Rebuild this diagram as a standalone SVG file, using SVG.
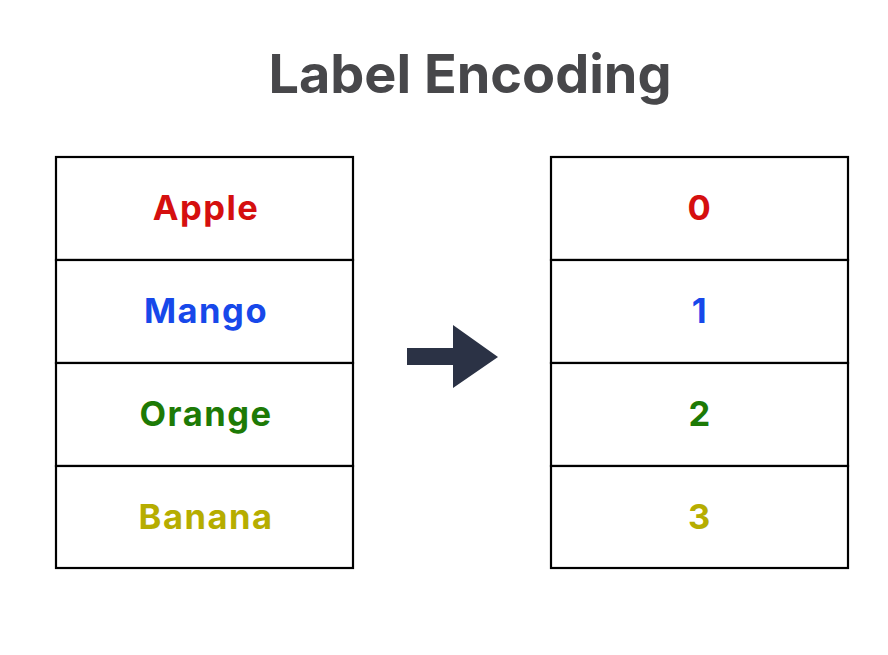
<svg xmlns="http://www.w3.org/2000/svg" width="888" height="655" viewBox="0 0 888 655">
<style>
.cell{fill:#fff;stroke:#000;stroke-width:2.2}
.lbl{font-family:Inter,"Noto Sans",sans-serif;font-weight:700;font-size:34.5px;letter-spacing:1.5px;text-anchor:middle}
.title{font-family:Inter,"Noto Sans",sans-serif;font-weight:700;font-size:54px;fill:#47474a;text-anchor:middle}
</style>
<rect width="888" height="655" fill="#fff"/>
<text id="title" class="title" x="470" y="93">Label Encoding</text>
<g id="left-table">
<g id="apple"><rect class="cell" x="56" y="157" width="297" height="103"/><text class="lbl" x="206" y="220" fill="#d50f0f">Apple</text></g>
<g id="mango"><rect class="cell" x="56" y="260" width="297" height="103"/><text class="lbl" x="206" y="323" fill="#1748ea">Mango</text></g>
<g id="orange"><rect class="cell" x="56" y="363" width="297" height="103"/><text class="lbl" x="206" y="426" fill="#1d7a06">Orange</text></g>
<g id="banana"><rect class="cell" x="56" y="466" width="297" height="102"/><text class="lbl" x="206" y="529" fill="#b6ad00">Banana</text></g>
</g>
<g id="right-table">
<g id="v0"><rect class="cell" x="551" y="157" width="297" height="103"/><text class="lbl" x="700" y="220" fill="#d50f0f">0</text></g>
<g id="v1"><rect class="cell" x="551" y="260" width="297" height="103"/><text class="lbl" x="700" y="323" fill="#1748ea">1</text></g>
<g id="v2"><rect class="cell" x="551" y="363" width="297" height="103"/><text class="lbl" x="700" y="426" fill="#1d7a06">2</text></g>
<g id="v3"><rect class="cell" x="551" y="466" width="297" height="102"/><text class="lbl" x="700" y="529" fill="#b6ad00">3</text></g>
</g>
<g id="connectors">
<polygon points="407,348 453,348 453,325 498,357 453,388 453,365 407,365" fill="#2b3245"/>
</g>
</svg>
